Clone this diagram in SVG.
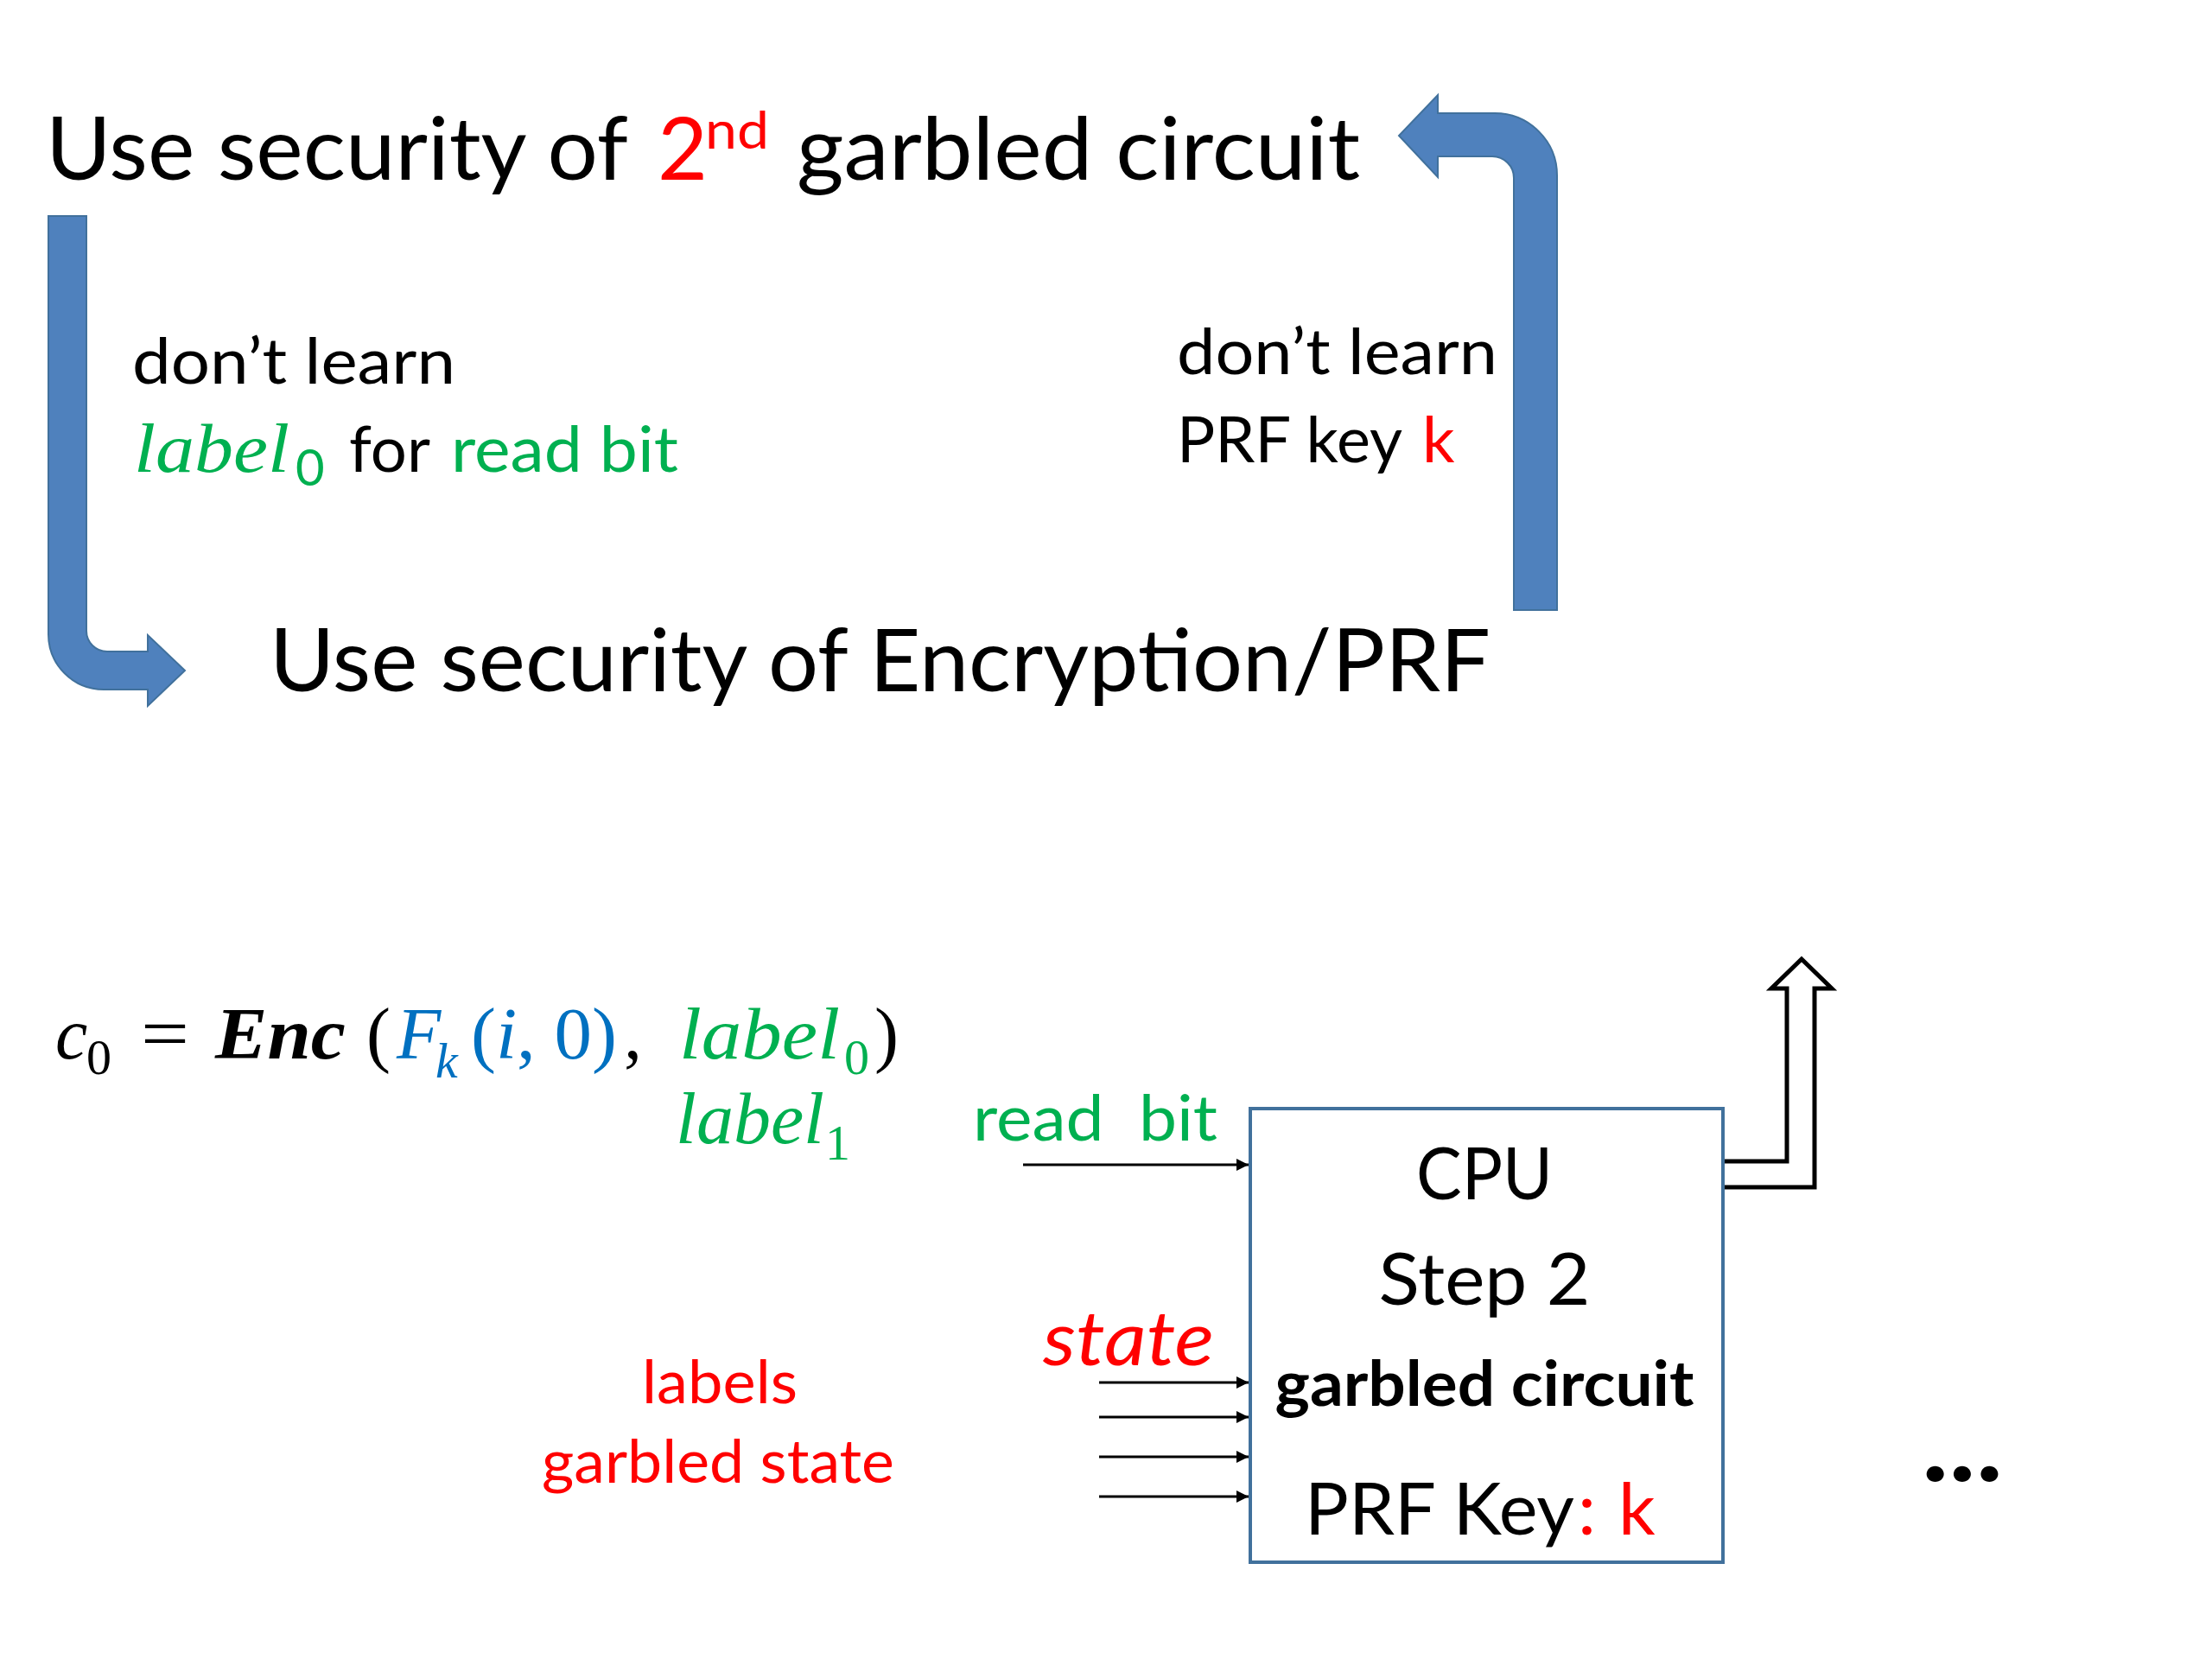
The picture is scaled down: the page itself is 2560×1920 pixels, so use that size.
<svg xmlns="http://www.w3.org/2000/svg" width="2560" height="1920" viewBox="0 0 2560 1920">
<style>
.s{font-family:Lato,"Open Sans",sans-serif;fill:#000}
.m{font-family:"Liberation Serif","DejaVu Serif",serif;font-style:italic}
.up{font-style:normal}
.g{fill:#00B050}
.r{fill:#FF0000}
.b{fill:#0070C0}
.k{fill:#000}
.blue{fill:#4F81BD;stroke:#41719C;stroke-width:2}
.wire{stroke:#000;stroke-width:3;fill:none}
</style>
<defs>
<marker id="ah" markerUnits="userSpaceOnUse" markerWidth="16" markerHeight="16" refX="14" refY="8" orient="auto">
<path d="M0,1 L14,8 L0,15 Z" fill="#000"/>
</marker>
</defs>
<rect width="2560" height="1920" fill="#fff"/>

<g id="title-garbled">
<text class="s" x="53" y="208" font-size="100" textLength="674" lengthAdjust="spacingAndGlyphs">Use security of</text>
<text class="s r" x="761" y="208" font-size="100">2</text>
<text class="s r" x="816" y="172" font-size="60" textLength="74" lengthAdjust="spacingAndGlyphs">nd</text>
<text class="s" x="922" y="208" font-size="100" textLength="652" lengthAdjust="spacingAndGlyphs">garbled circuit</text>
</g>

<g id="title-encryption">
<text class="s" x="312" y="800" font-size="100" textLength="1413" lengthAdjust="spacingAndGlyphs">Use security of Encryption/PRF</text>
</g>

<g id="note-left">
<text class="s" x="153" y="444" font-size="74" textLength="374" lengthAdjust="spacingAndGlyphs">don’t learn</text>
<text class="m g" x="155" y="546" font-size="80" textLength="180" lengthAdjust="spacingAndGlyphs">label</text>
<text class="s g" x="342" y="562" font-size="58">0</text>
<text class="s" x="404" y="546" font-size="74" textLength="94" lengthAdjust="spacingAndGlyphs">for</text>
<text class="s g" x="522" y="546" font-size="74" textLength="263" lengthAdjust="spacingAndGlyphs">read bit</text>
</g>

<g id="note-right">
<text class="s" x="1362" y="433" font-size="74" textLength="371" lengthAdjust="spacingAndGlyphs">don’t learn</text>
<text class="s" x="1362" y="535" font-size="74" textLength="261" lengthAdjust="spacingAndGlyphs">PRF key</text>
<text class="s r" x="1646" y="535" font-size="74">k</text>
</g>

<g id="formula">
<text class="m k" x="64" y="1225" font-size="84">c</text>
<text class="m up k" x="100" y="1243" font-size="58">0</text>
<text class="m up k" x="163" y="1225" font-size="84" textLength="56" lengthAdjust="spacingAndGlyphs">=</text>
<text class="m k" x="249" y="1225" font-size="84" font-weight="bold" textLength="151" lengthAdjust="spacingAndGlyphs">Enc</text>
<text class="m up k" x="424" y="1225" font-size="84">(</text>
<text class="m b" x="459" y="1225" font-size="84">F</text>
<text class="m b" x="504" y="1247" font-size="58">k</text>
<text class="m up b" x="545" y="1225" font-size="84" textLength="169" lengthAdjust="spacingAndGlyphs">(<tspan font-style="italic">i</tspan>, 0)</text>
<text class="m up k" x="722" y="1225" font-size="84">,</text>
<text class="m g" x="786" y="1225" font-size="84" textLength="186" lengthAdjust="spacingAndGlyphs">label</text>
<text class="m up g" x="977" y="1243" font-size="58">0</text>
<text class="m up k" x="1012" y="1225" font-size="84">)</text>
<text class="m g" x="782" y="1323" font-size="84" textLength="172" lengthAdjust="spacingAndGlyphs">label</text>
<text class="m up g" x="955" y="1342" font-size="58">1</text>
</g>

<g id="labels-note">
<text class="s r" x="743" y="1624" font-size="70" textLength="180" lengthAdjust="spacingAndGlyphs">labels</text>
<text class="s r" x="627" y="1716" font-size="70" textLength="408" lengthAdjust="spacingAndGlyphs">garbled state</text>
</g>

<g id="read-bit-label">
<text class="s g" x="1126" y="1320" font-size="74" textLength="283" lengthAdjust="spacingAndGlyphs" style="white-space:pre">read  bit</text>
</g>

<g id="state-label">
<text class="s r" x="1207" y="1580" font-size="88" font-style="italic" textLength="198" lengthAdjust="spacingAndGlyphs">state</text>
</g>

<g id="cpu-step2">
<rect x="1447" y="1283" width="547" height="525" fill="#fff" stroke="#41719C" stroke-width="4"/>
<text class="s" x="1718" y="1388" font-size="84" text-anchor="middle" textLength="158" lengthAdjust="spacingAndGlyphs">CPU</text>
<text class="s" x="1718" y="1510" font-size="84" text-anchor="middle" textLength="245" lengthAdjust="spacingAndGlyphs">Step 2</text>
<text class="s" x="1718" y="1627" font-size="72" font-weight="bold" text-anchor="middle" textLength="485" lengthAdjust="spacingAndGlyphs">garbled circuit</text>
<text class="s" x="1510" y="1776" font-size="84" textLength="312" lengthAdjust="spacingAndGlyphs">PRF Key</text>
<text class="s r" x="1826" y="1776" font-size="84">:</text>
<text class="s r" x="1873" y="1776" font-size="84">k</text>
</g>

<g id="ellipsis">
<text class="s" x="2224" y="1714" font-size="120" font-weight="bold" textLength="94" lengthAdjust="spacingAndGlyphs">...</text>
</g>

<g id="connectors">
<path class="blue" d="M56,250 H100 V730 A24,24 0 0 0 124,754 H171 V735 L214,776 L171,817 V798 H120 A64,64 0 0 1 56,734 Z"/>
<path class="blue" d="M1752,706 V206 A25,25 0 0 0 1727,181 H1664 V205 L1619,157 L1664,110 V131 H1730 A72,72 0 0 1 1802,203 V706 Z"/>
<line class="wire" x1="1184" y1="1348" x2="1445" y2="1348" marker-end="url(#ah)"/>
<line class="wire" x1="1272" y1="1600" x2="1445" y2="1600" marker-end="url(#ah)"/>
<line class="wire" x1="1272" y1="1640" x2="1445" y2="1640" marker-end="url(#ah)"/>
<line class="wire" x1="1272" y1="1686" x2="1445" y2="1686" marker-end="url(#ah)"/>
<line class="wire" x1="1272" y1="1732" x2="1445" y2="1732" marker-end="url(#ah)"/>
<path d="M1996,1344 H2068 V1144 H2050 L2085,1110 L2120,1144 H2100 V1374 H1996" fill="#fff" stroke="#000" stroke-width="5" stroke-linejoin="miter"/>
</g>
</svg>
